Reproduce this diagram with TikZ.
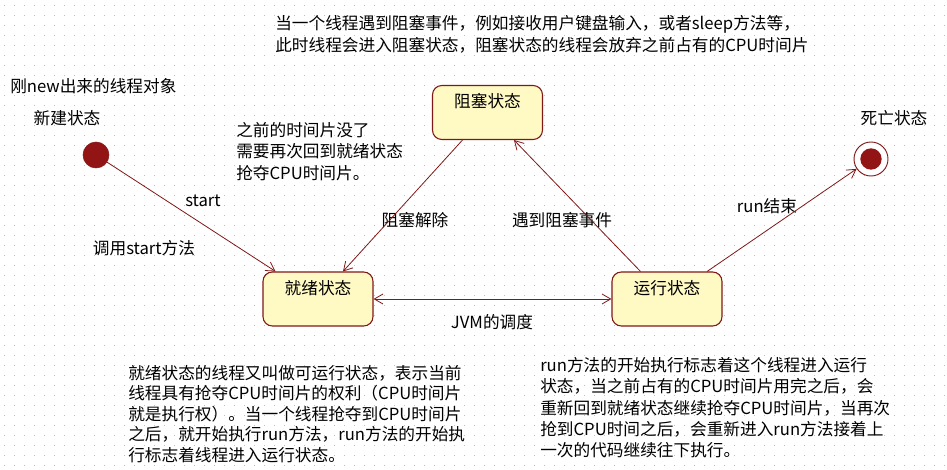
\documentclass[tikz,border=0pt]{standalone}
\usepackage{fontspec}
\setmainfont{Noto Sans CJK SC}
\usetikzlibrary{arrows.meta}
\definecolor{stateline}{RGB}{128,24,24}
\definecolor{statefill}{RGB}{255,250,195}
\definecolor{dotgray}{RGB}{190,190,190}

\begin{document}
\begin{tikzpicture}[
        x=0.75pt, y=-0.75pt,
        font=\fontsize{12.5pt}{16pt}\selectfont,
        state/.style={rectangle, rounded corners=7pt, draw=stateline, fill=statefill, line width=0.8pt, inner sep=0pt, minimum width=82.5pt, text height=16.7pt, text depth=23.8pt},
        initial/.style={circle, draw=stateline, fill=stateline!85!red, minimum size=19.5pt, inner sep=0pt},
        final/.style={circle, draw=stateline, fill=white, line width=0.7pt, minimum size=25.5pt, inner sep=0pt,
            path picture={\fill[stateline!85!red] (path picture bounding box.center) circle (8pt);}},
        arrow/.style={-{Straight Barb[length=6.5pt,width=7.5pt]}, stateline, line width=0.6pt},
        twoway/.style={arrow, {Straight Barb[length=6.5pt,width=7.5pt]}-{Straight Barb[length=6.5pt,width=7.5pt]}},
        note/.style={anchor=north west, align=left, inner sep=0pt}
    ]
        % Background
        \useasboundingbox (0,0) rectangle (947,470);
        \fill[white] (0,0) rectangle (947,470);
        \foreach \y in {6,16,...,466}
            \draw[dotgray, line width=0.75pt, dash pattern=on 0.75pt off 6.75pt] (4,\y) -- (947,\y);

        % States
        \node[state] (blocked) at (487.5,112.5) {阻塞状态};
        \node[state] (ready) at (318,299) {就绪状态};
        \node[state] (running) at (667,299) {运行状态};
        \node[initial] (new) at (96,155) {};
        \node[final] (dead) at (871,159) {};

        % Notes
        \node[note, font=\fontsize{12.5pt}{16.5pt}\selectfont] (topnote) at (275,15.5) {当一个线程遇到阻塞事件，例如接收用户键盘输入，或者sleep方法等，\\此时线程会进入阻塞状态，阻塞状态的线程会放弃之前占有的CPU时间片};
        \node[anchor=west, inner sep=0pt] (newnote) at (10,86) {刚new出来的线程对象};
        \node (newname) at (67,118) {新建状态};
        \node (deadname) at (894,118) {死亡状态};
        \node[note] (backnote) at (236,122) {之前的时间片没了\\需要再次回到就绪状态\\抢夺CPU时间片。};
        \node[note, font=\fontsize{12.5pt}{15.4pt}\selectfont] (readynote) at (128,365) {就绪状态的线程又叫做可运行状态，表示当前\\线程具有抢夺CPU时间片的权利（CPU时间片\\就是执行权）。当一个线程抢夺到CPU时间片\\之后，就开始执行run方法，run方法的开始执\\行标志着线程进入运行状态。};
        \node[note] (runnote) at (540,357) {run方法的开始执行标志着这个线程进入运行\\状态，当之前占有的CPU时间片用完之后，会\\重新回到就绪状态继续抢夺CPU时间片，当再次\\抢到CPU时间之后，会重新进入run方法接着上\\一次的代码继续往下执行。};

        % Labels
        \node (lstart) at (203,201) {start};
        \node (lcall) at (144,248) {调用start方法};
        \node (lunblock) at (415,220) {阻塞解除};
        \node (lblock) at (562,220) {遇到阻塞事件};
        \node (lend) at (767,206) {run结束};
        \node (ljvm) at (492,322) {JVM的调度};

        % Arrows
        \draw[arrow] (new) -- (ready);
        \draw[arrow] (blocked) -- (ready);
        \draw[arrow] (running) -- (blocked);
        \draw[arrow] (running) -- (dead);
        \draw[twoway] (ready) -- (running);
    \end{tikzpicture}
\end{document}
